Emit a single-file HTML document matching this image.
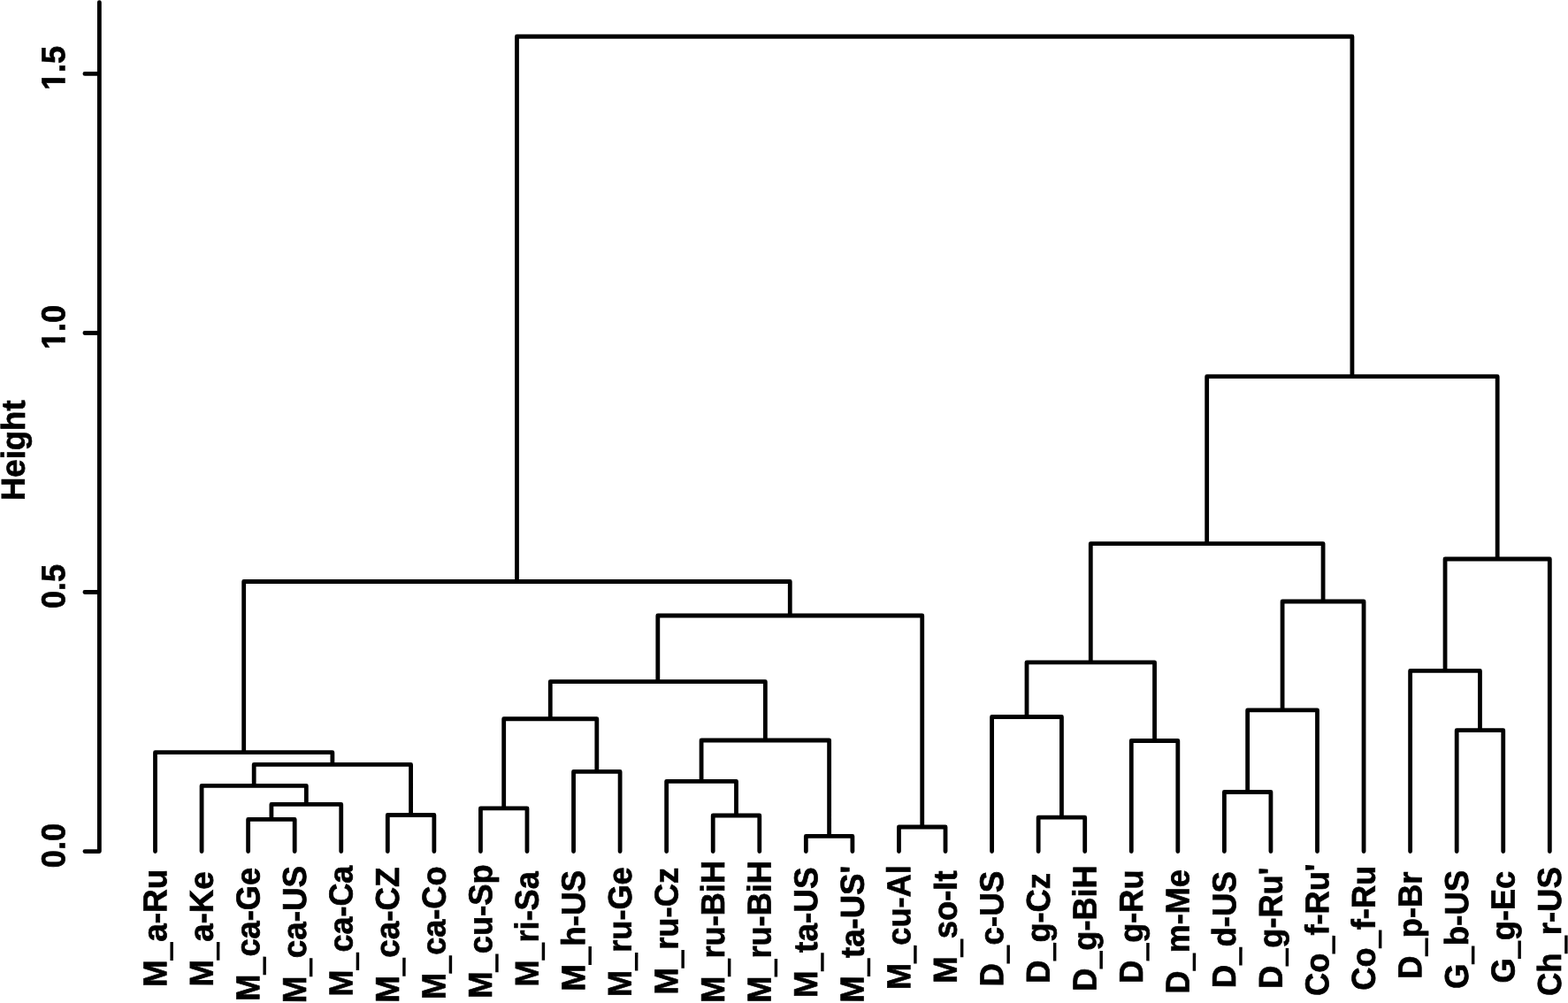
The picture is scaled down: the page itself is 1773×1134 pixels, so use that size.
<!DOCTYPE html>
<html lang="en">
<head>
<meta charset="utf-8">
<title>Cluster dendrogram</title>
<style>
html,body{margin:0;padding:0;background:#fff;}
body{width:1773px;height:1134px;overflow:hidden;}
svg{display:block;}
text{font-family:"Liberation Sans",sans-serif;font-weight:bold;font-size:37.6px;fill:#000;stroke:#000;stroke-width:0.7px;stroke-linejoin:miter;}
.u{stroke-width:2.2px;font-size:0.883em;}
.t{fill:none;stroke:#000;stroke-width:4.8;stroke-linecap:round;stroke-linejoin:round;}
</style>
</head>
<body>
<svg width="1773" height="1134" viewBox="0 0 1773 1134">
<defs><clipPath id="one"><rect x="-2" y="-40" width="120" height="34.80"/><rect x="8.33" y="-40" width="6.06" height="42"/><rect x="20.91" y="-40" width="100" height="42"/></clipPath></defs>
<rect width="1773" height="1134" fill="#fff"/>
<path class="t" d="M112.35 2.60V962.55 M112.35 962.55H95.90 M112.35 669.52H95.90 M112.35 376.48H95.90 M112.35 83.45H95.90"/>
<path class="t" d="M280.62 962.60V926.40H333.18V962.60 M306.90 926.40V909.45H385.74V962.60 M228.06 962.60V888.30H346.32V909.45 M438.30 962.60V921.50H490.86V962.60 M287.19 888.30V864.40H464.58V921.50 M175.50 962.60V850.70H375.88V864.40 M543.42 962.60V913.90H595.98V962.60 M648.54 962.60V872.45H701.10V962.60 M569.70 913.90V812.75H674.82V872.45 M806.22 962.60V922.00H858.78V962.60 M753.66 962.60V883.30H832.50V922.00 M911.34 962.60V945.40H963.90V962.60 M793.08 883.30V837.00H937.62V945.40 M622.26 812.75V770.65H865.35V837.00 M1016.46 962.60V935.00H1069.02V962.60 M743.81 770.65V696.00H1042.74V935.00 M275.69 850.70V657.50H893.27V696.00 M1174.14 962.60V924.20H1226.70V962.60 M1121.58 962.60V810.50H1200.42V924.20 M1279.26 962.60V837.50H1331.82V962.60 M1161.00 810.50V748.80H1305.54V837.50 M1384.38 962.60V895.50H1436.94V962.60 M1410.66 895.50V802.90H1489.50V962.60 M1450.08 802.90V680.00H1542.06V962.60 M1233.27 748.80V614.60H1496.07V680.00 M1647.18 962.60V825.65H1699.74V962.60 M1594.62 962.60V758.40H1673.46V825.65 M1634.04 758.40V632.00H1752.30V962.60 M1364.67 614.60V425.70H1693.17V632.00 M584.48 657.50V41.25H1528.92V425.70"/>
<g>
<text transform="translate(73.20 981.20) rotate(-89.95) scale(0.9660 1)">0.0</text>
<text transform="translate(73.20 688.00) rotate(-89.95) scale(0.9582 1)">0.5</text>
<text clip-path="url(#one)" transform="translate(73.20 395.20) rotate(-89.95) scale(0.9622 1)">1.0</text>
<text clip-path="url(#one)" transform="translate(73.20 102.00) rotate(-89.95) scale(0.9600 1)">1.5</text>
<text transform="translate(27.85 566.00) rotate(-89.95) scale(0.9714 1)">Height</text>
</g>
<g>
<text transform="translate(188.20 1116.00) rotate(-89.95) scale(0.9814 1)">M<tspan class="u" dx="0.8" dy="2.4">_</tspan><tspan dx="1.6" dy="-2.4">a-Ru</tspan></text>
<text transform="translate(240.76 1115.40) rotate(-89.95) scale(0.9730 1)">M<tspan class="u" dx="0.8" dy="2.4">_</tspan><tspan dx="1.6" dy="-2.4">a-Ke</tspan></text>
<text transform="translate(293.32 1131.80) rotate(-89.95) scale(0.9633 1)">M<tspan class="u" dx="0.8" dy="2.4">_</tspan><tspan dx="1.6" dy="-2.4">ca-Ge</tspan></text>
<text transform="translate(345.88 1134.20) rotate(-89.95) scale(0.9787 1)">M<tspan class="u" dx="0.8" dy="2.4">_</tspan><tspan dx="1.6" dy="-2.4">ca-US</tspan></text>
<text transform="translate(398.44 1126.40) rotate(-89.95) scale(0.9561 1)">M<tspan class="u" dx="0.8" dy="2.4">_</tspan><tspan dx="1.6" dy="-2.4">ca-Ca</tspan></text>
<text transform="translate(451.00 1133.80) rotate(-89.95) scale(0.9796 1)">M<tspan class="u" dx="0.8" dy="2.4">_</tspan><tspan dx="1.6" dy="-2.4">ca-CZ</tspan></text>
<text transform="translate(503.56 1130.00) rotate(-89.95) scale(0.9606 1)">M<tspan class="u" dx="0.8" dy="2.4">_</tspan><tspan dx="1.6" dy="-2.4">ca-Co</tspan></text>
<text transform="translate(556.12 1128.80) rotate(-89.95) scale(0.9678 1)">M<tspan class="u" dx="0.8" dy="2.4">_</tspan><tspan dx="1.6" dy="-2.4">cu-Sp</tspan></text>
<text transform="translate(608.68 1115.40) rotate(-89.95) scale(0.9585 1)">M<tspan class="u" dx="0.8" dy="2.4">_</tspan><tspan dx="1.6" dy="-2.4">ri-Sa</tspan></text>
<text transform="translate(661.24 1120.80) rotate(-89.95) scale(0.9776 1)">M<tspan class="u" dx="0.8" dy="2.4">_</tspan><tspan dx="1.6" dy="-2.4">h-US</tspan></text>
<text transform="translate(713.80 1127.00) rotate(-89.95) scale(0.9628 1)">M<tspan class="u" dx="0.8" dy="2.4">_</tspan><tspan dx="1.6" dy="-2.4">ru-Ge</tspan></text>
<text transform="translate(766.36 1124.40) rotate(-89.95) scale(0.9684 1)">M<tspan class="u" dx="0.8" dy="2.4">_</tspan><tspan dx="1.6" dy="-2.4">ru-Cz</tspan></text>
<text transform="translate(818.92 1133.80) rotate(-89.95) scale(0.9631 1)">M<tspan class="u" dx="0.8" dy="2.4">_</tspan><tspan dx="1.6" dy="-2.4">ru-BiH</tspan></text>
<text transform="translate(871.48 1133.80) rotate(-89.95) scale(0.9625 1)">M<tspan class="u" dx="0.8" dy="2.4">_</tspan><tspan dx="1.6" dy="-2.4">ru-BiH</tspan></text>
<text transform="translate(924.04 1128.20) rotate(-89.95) scale(0.9831 1)">M<tspan class="u" dx="0.8" dy="2.4">_</tspan><tspan dx="1.6" dy="-2.4">ta-US</tspan></text>
<text transform="translate(976.60 1133.80) rotate(-89.95) scale(0.9735 1)">M<tspan class="u" dx="0.8" dy="2.4">_</tspan><tspan dx="1.6" dy="-2.4">ta-US'</tspan></text>
<text transform="translate(1029.16 1119.00) rotate(-89.95) scale(0.9635 1)">M<tspan class="u" dx="0.8" dy="2.4">_</tspan><tspan dx="1.6" dy="-2.4">cu-Al</tspan></text>
<text transform="translate(1081.72 1111.80) rotate(-89.95) scale(0.9685 1)">M<tspan class="u" dx="0.8" dy="2.4">_</tspan><tspan dx="1.6" dy="-2.4">so-It</tspan></text>
<text transform="translate(1134.28 1115.40) rotate(-89.95) scale(0.9769 1)">D<tspan class="u" dx="0.8" dy="2.4">_</tspan><tspan dx="1.6" dy="-2.4">c-US</tspan></text>
<text transform="translate(1186.84 1111.80) rotate(-89.95) scale(0.9631 1)">D<tspan class="u" dx="0.8" dy="2.4">_</tspan><tspan dx="1.6" dy="-2.4">g-Cz</tspan></text>
<text transform="translate(1239.40 1120.80) rotate(-89.95) scale(0.9615 1)">D<tspan class="u" dx="0.8" dy="2.4">_</tspan><tspan dx="1.6" dy="-2.4">g-BiH</tspan></text>
<text transform="translate(1291.96 1111.80) rotate(-89.95) scale(0.9600 1)">D<tspan class="u" dx="0.8" dy="2.4">_</tspan><tspan dx="1.6" dy="-2.4">g-Ru</tspan></text>
<text transform="translate(1344.52 1123.40) rotate(-89.95) scale(0.9586 1)">D<tspan class="u" dx="0.8" dy="2.4">_</tspan><tspan dx="1.6" dy="-2.4">m-Me</tspan></text>
<text transform="translate(1397.08 1117.20) rotate(-89.95) scale(0.9737 1)">D<tspan class="u" dx="0.8" dy="2.4">_</tspan><tspan dx="1.6" dy="-2.4">d-US</tspan></text>
<text transform="translate(1449.64 1117.80) rotate(-89.95) scale(0.9615 1)">D<tspan class="u" dx="0.8" dy="2.4">_</tspan><tspan dx="1.6" dy="-2.4">g-Ru'</tspan></text>
<text transform="translate(1502.20 1126.00) rotate(-89.95) scale(0.9640 1)">Co<tspan class="u" dx="0.8" dy="2.4">_</tspan><tspan dx="1.6" dy="-2.4">f-Ru'</tspan></text>
<text transform="translate(1554.76 1119.80) rotate(-89.95) scale(0.9656 1)">Co<tspan class="u" dx="0.8" dy="2.4">_</tspan><tspan dx="1.6" dy="-2.4">f-Ru</tspan></text>
<text transform="translate(1607.32 1106.80) rotate(-89.95) scale(0.9681 1)">D<tspan class="u" dx="0.8" dy="2.4">_</tspan><tspan dx="1.6" dy="-2.4">p-Br</tspan></text>
<text transform="translate(1659.88 1118.00) rotate(-89.95) scale(0.9748 1)">G<tspan class="u" dx="0.8" dy="2.4">_</tspan><tspan dx="1.6" dy="-2.4">b-US</tspan></text>
<text transform="translate(1712.44 1111.40) rotate(-89.95) scale(0.9616 1)">G<tspan class="u" dx="0.8" dy="2.4">_</tspan><tspan dx="1.6" dy="-2.4">g-Ec</tspan></text>
<text transform="translate(1765.00 1126.00) rotate(-89.95) scale(0.9695 1)">Ch<tspan class="u" dx="0.8" dy="2.4">_</tspan><tspan dx="1.6" dy="-2.4">r-US</tspan></text>
</g>
</svg>
</body>
</html>
